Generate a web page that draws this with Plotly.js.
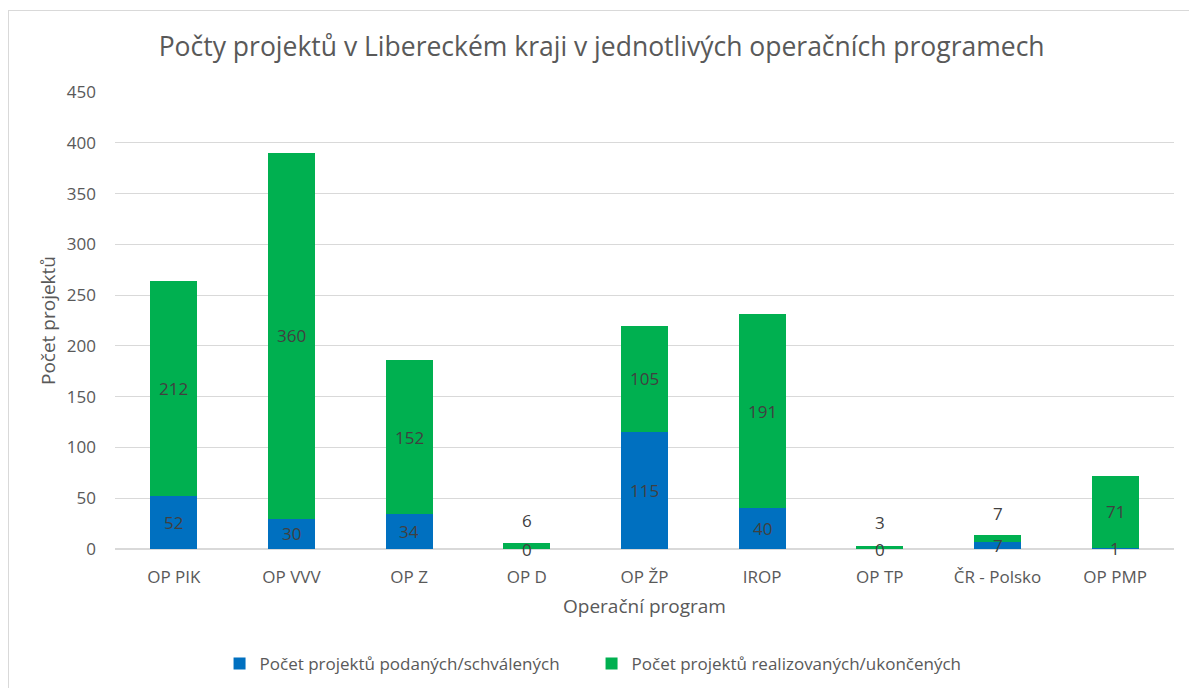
<!DOCTYPE html>
<html><head><meta charset="utf-8">
<script src="https://cdn.plot.ly/plotly-3.0.1.min.js"></script>
<style>body{margin:0;background:#fff;}#wrap{position:relative;width:1189px;height:688px;}
#frame{position:absolute;left:8px;top:10px;width:1189px;height:688px;border:1px solid #d9d9d9;pointer-events:none;}</style>
</head><body><div id="wrap"><div id="chart" style="width:1189px;height:688px;"></div><div id="frame"></div></div>
<script>
const categories = ["OP PIK","OP VVV","OP Z","OP D","OP ŽP","IROP","OP TP","ČR - Polsko","OP PMP"];
const podane = [52,30,34,0,115,40,0,7,1];
const realizovane = [212,360,152,6,105,191,3,7,71];
const seriesNames = ["Počet projektů podaných/schválených","Počet projektů realizovaných/ukončených"];

const FONT = "Open Sans, sans-serif";
const traces = [
  {type:"bar", x:categories, y:podane, name:seriesNames[0], marker:{color:"#0070C0"}, hoverinfo:"none"},
  {type:"bar", x:categories, y:realizovane, name:seriesNames[1], marker:{color:"#00B050"}, hoverinfo:"none"}
];
const annotations = [];
categories.forEach((c,i)=>{
  annotations.push({x:c, y:podane[i]/2, xref:"x", yref:"y", text:String(podane[i]), showarrow:false, font:{family:FONT,size:17,color:"#404040"}});
  const small = realizovane[i] < 10;
  annotations.push({x:c, y:podane[i]+realizovane[i]/2, xref:"x", yref:"y", text:String(realizovane[i]), showarrow:false, yshift: small?25:0, font:{family:FONT,size:17,color:"#404040"}});
});
const layout = {
  width:1189, height:688, barmode:"stack", bargap:0.6,
  paper_bgcolor:"#fff", plot_bgcolor:"#fff",
  margin:{l:115,r:15,t:92,b:139, autoexpand:false},
  font:{family:FONT, color:"#595959"},
  title:{text:"Počty projektů v Libereckém kraji v jednotlivých operačních programech", font:{family:FONT,size:26.5,color:"#595959"}, x:0.506, xanchor:"center", y:0.932, yanchor:"middle"},
  xaxis:{title:{text:"Operační program", font:{size:19,color:"#595959"}, standoff:12}, tickfont:{size:17,color:"#595959"}, showline:false, ticks:"", showgrid:false, fixedrange:true, ticklabelstandoff:16, automargin:false},
  yaxis:{title:{text:"Počet projektů", font:{size:19,color:"#595959"}, standoff:6}, range:[0,450], dtick:50, tickfont:{size:17,color:"#595959"}, gridcolor:"#d9d9d9", gridwidth:1, zeroline:true, zerolinecolor:"#d9d9d9", zerolinewidth:1.5, ticks:"", ticklabelstandoff:18, automargin:false},
  legend:{orientation:"h", x:0.450, xanchor:"center", y:-0.212, yanchor:"top", font:{size:17,color:"#595959"}, itemwidth:30, traceorder:"normal", entrywidth:327},
  annotations:annotations,
  showlegend:true
};
Plotly.newPlot("chart", traces, layout, {displayModeBar:false, staticPlot:true});
</script></body></html>
